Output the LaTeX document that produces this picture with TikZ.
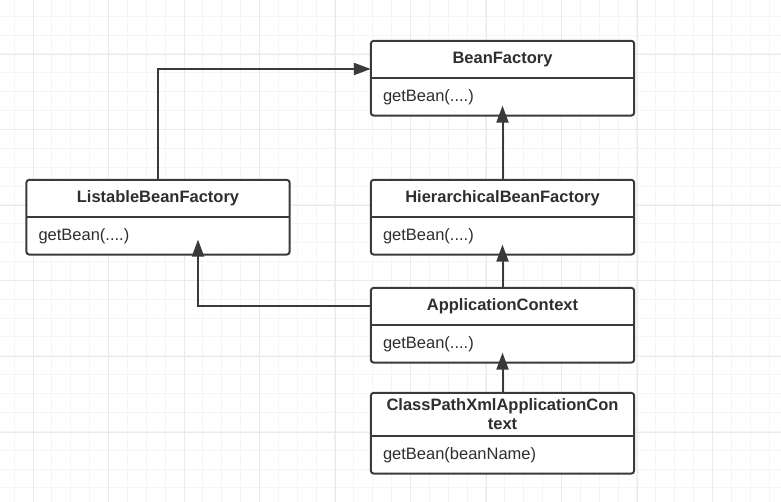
\documentclass[tikz,border=0pt]{standalone}
\usepackage{fontspec}
\setmainfont{Liberation Sans}
\usetikzlibrary{positioning}
\usetikzlibrary{arrows.meta}
\definecolor{linegray}{HTML}{3A3A3A}
\definecolor{textgray}{HTML}{2E2E2E}
\definecolor{gridminor}{HTML}{F5F5F5}
\definecolor{gridmajor}{HTML}{EAEAEA}
\tikzset{
  classtitle/.style={minimum width=263pt, minimum height=37pt, inner sep=0pt, fill=white,
    text=textgray, align=center, font=\bfseries\fontsize{16.5}{19}\selectfont},
  classmethod/.style={minimum width=263pt, minimum height=37pt, inner xsep=12pt, inner ysep=0pt,
    text width=239pt, align=left, fill=white, text=textgray, font=\fontsize{16.5}{19}\selectfont},
  classframe/.style={draw=linegray, line width=2pt, rounded corners=3pt},
  inherit/.style={draw=linegray, line width=2pt, -{Triangle[length=17pt,width=12pt]}}
}
\begin{document}
\begin{tikzpicture}[x=1pt, y=-1pt]
  \useasboundingbox (0,0) rectangle (781,502);
  % grid
  \foreach \i in {0,...,41} \draw[gridminor, line width=1pt] ({14.2+18.87*\i},0) -- ++(0,502);
  \foreach \i in {0,...,27} \draw[gridminor, line width=1pt] (0,{16.2+18.87*\i}) -- ++(781,0);
  \foreach \i in {0,...,10} \draw[gridmajor, line width=1pt] ({33+75.5*\i},0) -- ++(0,502);
  \foreach \i in {0,...,6} \draw[gridmajor, line width=1pt] (0,{54.5+75.5*\i}) -- ++(781,0);

  % classes
  \node[classtitle] (beanT) at (502.5,59.5) {BeanFactory};
  \node[classmethod, below=0pt of beanT] (beanM) {getBean(....)};
  \node[classtitle] (listT) at (158,198.5) {ListableBeanFactory};
  \node[classmethod, below=0pt of listT] (listM) {getBean(....)};
  \node[classtitle] (hierT) at (502.5,198.5) {HierarchicalBeanFactory};
  \node[classmethod, below=0pt of hierT] (hierM) {getBean(....)};
  \node[classtitle] (appT) at (502.5,306.5) {ApplicationContext};
  \node[classmethod, below=0pt of appT] (appM) {getBean(....)};
  \node[classtitle, minimum height=43pt] (cpT) at (502.5,414.5) {ClassPathXmlApplicationCon\\text};
  \node[classmethod, below=0pt of cpT] (cpM) {getBean(beanName)};

  \foreach \c in {bean,list,hier,app,cp} {
    \draw[classframe] (\c T.north west) rectangle (\c M.south east);
    \draw[linegray, line width=2pt] (\c T.south west) -- (\c T.south east);
  }

  % inheritance
  \draw[inherit] (listT.north) |- ([yshift=-9.5pt]beanT.west);
  \draw[inherit] (hierT.north) -- ([yshift=10pt]beanM.south);
  \draw[inherit] (appT.north) -- ([yshift=10pt]hierM.south);
  \draw[inherit] (appT.west) -| ([xshift=40pt,yshift=15pt]listM.south);
  \draw[inherit] (cpT.north) -- ([yshift=10pt]appM.south);
\end{tikzpicture}
\end{document}
